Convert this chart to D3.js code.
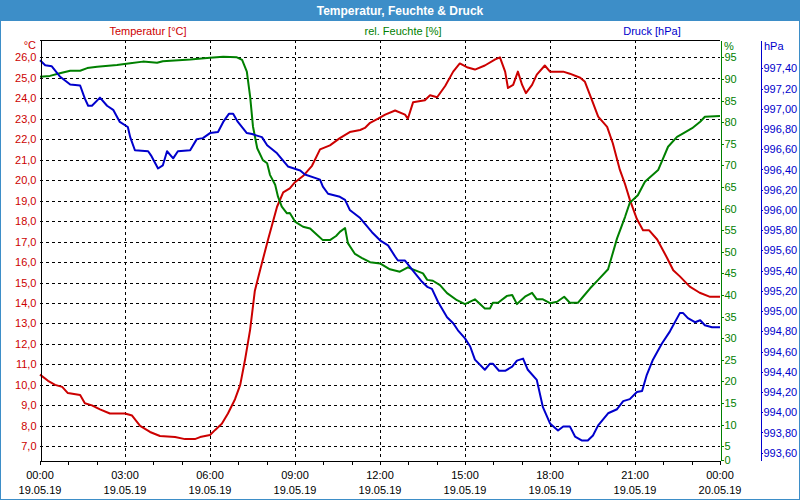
<!DOCTYPE html>
<html>
<head>
<meta charset="utf-8">
<script src="https://cdn.jsdelivr.net/npm/d3@7"></script>
<style>
  body { margin: 0; background: #fff; }
  svg { display: block; font-family: "Liberation Sans", Arial, sans-serif; }
  .grid line { stroke: #000; stroke-dasharray: 3,3; shape-rendering: crispEdges; }
  .axis path, .axis line { shape-rendering: crispEdges; }
</style>
</head>
<body>
<div class="chart"></div>
<script>
// minutes since 19.05.19 00:00
const tempMinutes = [0,17,32,47,59,85,95,110,127,148,180,195,212,233,254,286,307,328,339,360,371,385,398,413,424,434,445,455,466,483,502,515,529,540,557,576,593,614,635,656,678,688,699,716,731,752,773,779,790,815,826,841,858,875,889,906,921,942,964,974,985,991,1002,1012,1021,1029,1042,1052,1069,1080,1108,1122,1144,1154,1169,1182,1201,1213,1228,1239,1249,1264,1277,1290,1307,1328,1341,1355,1376,1397,1419,1440];
const tempValues = [10.5,10.2,10.0,9.9,9.6,9.5,9.1,9.0,8.8,8.6,8.6,8.5,8.0,7.7,7.5,7.45,7.35,7.35,7.45,7.55,7.8,8.1,8.6,9.3,10.0,11.2,12.7,14.6,15.6,17.1,18.7,19.4,19.6,19.9,20.2,20.7,21.5,21.7,22.05,22.35,22.45,22.55,22.8,23.0,23.2,23.4,23.2,23.0,23.8,23.9,24.15,24.05,24.6,25.3,25.7,25.5,25.4,25.6,25.9,26.0,25.3,24.5,24.65,25.3,24.65,24.25,24.65,25.15,25.6,25.3,25.3,25.2,25.0,24.8,23.9,23.1,22.6,21.8,20.5,19.8,19.05,18.1,17.55,17.55,17.1,16.2,15.6,15.3,14.8,14.5,14.3,14.3];

const humMinutes = [0,21,42,64,85,100,121,163,191,218,248,260,318,360,388,417,428,438,445,451,460,472,481,487,498,504,512,523,529,540,557,572,587,599,614,627,635,646,652,667,682,699,720,741,762,779,811,820,832,847,862,883,900,921,942,953,959,970,989,1000,1010,1027,1042,1052,1065,1080,1095,1110,1122,1139,1150,1165,1182,1203,1222,1239,1249,1266,1281,1309,1330,1349,1362,1381,1398,1408,1440];
const humValues = [90.5,90.7,91.3,91.9,91.9,92.5,92.8,93.2,93.6,94.0,93.75,94.1,94.5,94.9,95.1,95.0,94.4,91.7,85.9,79.0,73.95,71.2,70.5,67.8,65.5,62.75,60.45,58.9,59.0,57.0,55.8,55.4,53.9,52.7,52.7,53.65,54.6,55.5,52.0,49.5,48.55,47.6,47.3,45.95,45.4,46.4,45.0,43.5,43.3,42.3,40.45,38.8,37.9,39.0,36.9,36.9,38.2,38.2,39.8,40.0,37.9,39.6,40.5,39.0,39.0,38.1,38.45,39.6,38.2,38.2,39.6,41.55,43.5,45.95,53.1,58.1,61.35,63.1,66.2,68.9,74.3,76.6,77.4,78.6,80.1,81.25,81.4];

const pressMinutes = [0,11,25,42,64,85,95,102,110,127,142,155,169,186,191,201,229,235,250,260,269,282,292,318,332,345,360,377,388,400,409,419,438,449,470,481,502,525,551,561,587,593,599,610,635,646,656,678,703,720,737,752,758,773,788,809,820,830,843,862,875,885,900,911,921,942,953,959,972,985,1000,1010,1023,1033,1052,1065,1080,1097,1108,1122,1133,1148,1160,1171,1182,1203,1222,1235,1249,1264,1275,1285,1298,1317,1334,1355,1362,1372,1387,1398,1408,1423,1440];
const pressValues = [997.48,997.43,997.42,997.32,997.24,997.23,997.10,997.03,997.03,997.11,997.03,996.99,996.87,996.82,996.72,996.59,996.58,996.54,996.41,996.44,996.58,996.51,996.58,996.59,996.70,996.71,996.76,996.77,996.87,996.95,996.95,996.87,996.76,996.75,996.72,996.64,996.56,996.43,996.39,996.35,996.31,996.30,996.23,996.16,996.13,996.10,996.00,995.92,995.78,995.70,995.65,995.54,995.50,995.50,995.41,995.29,995.24,995.22,995.09,994.94,994.88,994.81,994.73,994.65,994.52,994.42,994.48,994.48,994.41,994.41,994.45,994.51,994.53,994.42,994.32,994.05,993.89,993.82,993.86,993.86,993.76,993.72,993.72,993.77,993.87,993.99,994.03,994.11,994.13,994.20,994.21,994.37,994.52,994.68,994.80,994.98,994.98,994.93,994.89,994.91,994.86,994.84,994.84];

const tempTicks = [7,8,9,10,11,12,13,14,15,16,17,18,19,20,21,22,23,24,25,26];
const humTicks = [0,5,10,15,20,25,30,35,40,45,50,55,60,65,70,75,80,85,90,95];
const pressTicks = [993.6,993.8,994.0,994.2,994.4,994.6,994.8,995.0,995.2,995.4,995.6,995.8,996.0,996.2,996.4,996.6,996.8,997.0,997.2,997.4];

const title = 'Temperatur, Feuchte & Druck';
const red = '#cc0000', green = '#008000', blue = '#0000cc';

const W = 800, H = 500;
const plot = {left: 40, right: 720, top: 40, bottom: 460};

const svg = d3.select('.chart').append('svg')
    .attr('width', W)
    .attr('height', H);

// window frame + title bar
svg.append('rect')
    .attr('x', 0.5).attr('y', 0.5)
    .attr('width', W - 1).attr('height', H - 1)
    .attr('fill', '#fff')
    .attr('stroke', '#3d8ec8');
svg.append('rect')
    .attr('x', 0).attr('y', 0)
    .attr('width', W).attr('height', 21)
    .attr('fill', '#3d8ec8');
svg.append('text')
    .attr('x', W / 2).attr('y', 15)
    .attr('text-anchor', 'middle')
    .attr('fill', '#fff')
    .attr('font-weight', 'bold')
    .attr('font-size', 12)
    .text(title);

const t0 = new Date(2019, 4, 19, 0, 0);
const t1 = new Date(2019, 4, 20, 0, 0);
const toDate = m => new Date(t0.getTime() + m * 60000);

const xScale = d3.scaleTime()
    .domain([t0, t1])
    .range([plot.left, plot.right]);

const yTemp = d3.scaleLinear()
    .domain([6.33, 26.845])
    .range([plot.bottom, plot.top]);

// humidity shares the grid: 5 % at 7 °C, 95 % at 26 °C
const yHum = d3.scaleLinear()
    .domain(yTemp.domain().map(t => 5 + (t - 7) * 90 / 19))
    .range([plot.bottom, plot.top])
    .clamp(true);

const yPress = d3.scaleLinear()
    .domain([993.528, 997.68])
    .range([plot.bottom, plot.top]);

const comma = f => v => d3.format(f)(v).replace('.', ',');

// grid
const grid = svg.append('g').attr('class', 'grid');
grid.selectAll('.hgrid')
    .data(tempTicks)
    .enter()
    .append('line')
    .attr('x1', plot.left)
    .attr('x2', plot.right)
    .attr('y1', d => Math.round(yTemp(d)) + 0.5)
    .attr('y2', d => Math.round(yTemp(d)) + 0.5);

const vTicks = xScale.ticks(d3.timeHour.every(3)).slice(1, -1);
grid.selectAll('.vgrid')
    .data(vTicks)
    .enter()
    .append('line')
    .attr('x1', d => Math.round(xScale(d)) + 0.5)
    .attr('x2', d => Math.round(xScale(d)) + 0.5)
    .attr('y1', plot.top)
    .attr('y2', plot.bottom);

// top border
svg.append('line')
    .attr('x1', plot.left).attr('x2', plot.right)
    .attr('y1', plot.top + 0.5).attr('y2', plot.top + 0.5)
    .attr('stroke', '#000')
    .attr('shape-rendering', 'crispEdges');

// series
const series = [
  {minutes: tempMinutes, values: tempValues, y: yTemp, color: red},
  {minutes: humMinutes, values: humValues, y: yHum, color: green},
  {minutes: pressMinutes, values: pressValues, y: yPress, color: blue}
];

series.forEach(s => {
  const line = d3.line()
      .x(i => xScale(toDate(s.minutes[i])))
      .y(i => s.y(s.values[i]));
  svg.append('path')
      .datum(d3.range(s.values.length))
      .attr('d', line)
      .attr('fill', 'none')
      .attr('stroke', s.color)
      .attr('stroke-width', 2)
      .attr('stroke-linejoin', 'round');
});

// left axis (temperature)
const tempAxis = svg.append('g')
    .attr('class', 'axis')
    .attr('transform', `translate(${plot.left + 0.5},0)`)
    .call(d3.axisLeft(yTemp).tickValues(tempTicks).tickFormat(comma('.1f')).tickSize(0).tickPadding(4).tickSizeOuter(0));
tempAxis.select('.domain').attr('stroke', '#000');
tempAxis.selectAll('text').attr('fill', red).attr('font-size', 11).attr('font-family', null);

// humidity axis
const humAxis = svg.append('g')
    .attr('class', 'axis')
    .attr('transform', `translate(${plot.right + 0.5},0)`)
    .call(d3.axisRight(yHum).tickValues(humTicks).tickSize(3).tickPadding(1).tickSizeOuter(0));
humAxis.select('.domain').attr('stroke', green);
humAxis.selectAll('.tick line').attr('stroke', green);
humAxis.selectAll('text').attr('fill', green).attr('font-size', 11).attr('font-family', null);

// pressure axis
const pressAxis = svg.append('g')
    .attr('class', 'axis')
    .attr('transform', `translate(${plot.right + 40.5},0)`)
    .call(d3.axisRight(yPress).tickValues(pressTicks).tickFormat(comma('.2f')).tickSize(2).tickPadding(1).tickSizeOuter(0));
pressAxis.select('.domain').attr('stroke', blue);
pressAxis.selectAll('.tick line').attr('stroke', blue);
pressAxis.selectAll('text').attr('fill', blue).attr('font-size', 11).attr('font-family', null);

// bottom axis (time)
const xAxis = svg.append('g')
    .attr('class', 'axis')
    .attr('transform', `translate(0,${plot.bottom + 0.5})`)
    .call(d3.axisBottom(xScale).ticks(d3.timeHour.every(1)).tickSize(4).tickSizeOuter(0).tickFormat(''));
xAxis.select('.domain').attr('stroke', '#000');

const xLabels = svg.append('g')
    .selectAll('.xlabel')
    .data(xScale.ticks(d3.timeHour.every(3)))
    .enter()
    .append('text')
    .attr('text-anchor', 'middle')
    .attr('font-size', 11)
    .attr('fill', '#000');
xLabels.append('tspan')
    .attr('x', d => xScale(d))
    .attr('y', 479)
    .text(d3.timeFormat('%H:%M'));
xLabels.append('tspan')
    .attr('x', d => xScale(d))
    .attr('y', 494)
    .text(d3.timeFormat('%d.%m.%y'));

// units and series titles
const label = (x, y, anchor, color, txt) => svg.append('text')
    .attr('x', x).attr('y', y)
    .attr('text-anchor', anchor)
    .attr('fill', color)
    .attr('font-size', 11)
    .text(txt);

label(36, 49, 'end', red, '°C');
label(724, 50, 'start', green, '%');
label(764, 50, 'start', blue, 'hPa');
label(148, 35, 'middle', red, 'Temperatur [°C]');
label(403, 35, 'middle', green, 'rel. Feuchte [%]');
label(652, 35, 'middle', blue, 'Druck [hPa]');
</script>
</body>
</html>
